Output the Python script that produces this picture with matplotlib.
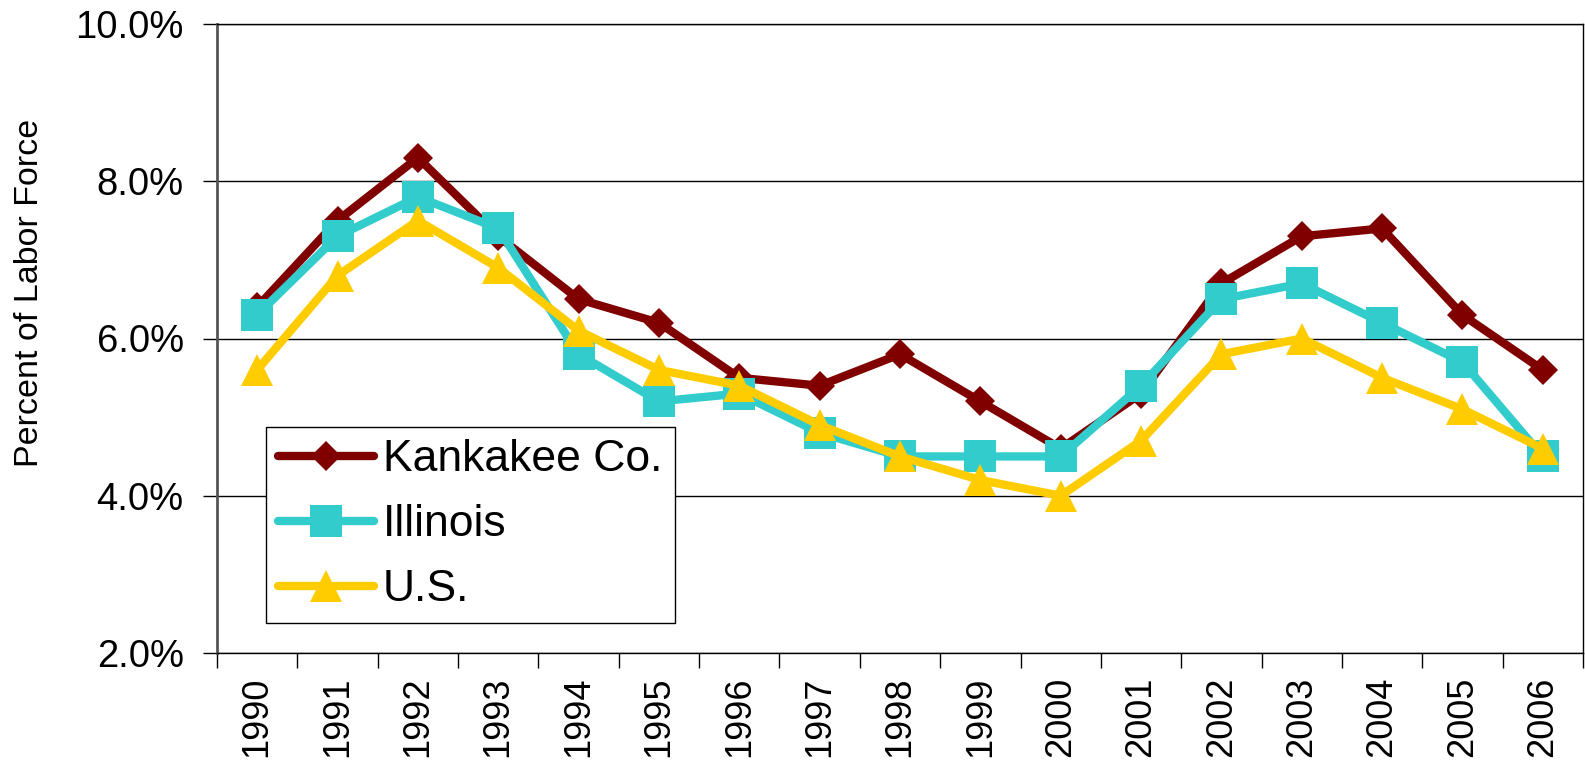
import matplotlib
matplotlib.use("Agg")
from matplotlib import pyplot as plt
from matplotlib.ticker import FixedLocator, FuncFormatter

plt.rcParams['font.family'] = ['Liberation Sans', 'DejaVu Sans']

# data
years = ['1990', '1991', '1992', '1993', '1994', '1995', '1996', '1997', '1998',
         '1999', '2000', '2001', '2002', '2003', '2004', '2005', '2006']
kankakee = [6.4, 7.5, 8.3, 7.3, 6.5, 6.2, 5.5, 5.4, 5.8, 5.2, 4.6, 5.3, 6.7, 7.3, 7.4, 6.3, 5.6]
illinois = [6.3, 7.3, 7.8, 7.4, 5.8, 5.2, 5.3, 4.8, 4.5, 4.5, 4.5, 5.4, 6.5, 6.7, 6.2, 5.7, 4.5]
us = [5.6, 6.8, 7.5, 6.9, 6.1, 5.6, 5.4, 4.9, 4.5, 4.2, 4.0, 4.7, 5.8, 6.0, 5.5, 5.1, 4.6]
y_ticks = [2, 4, 6, 8, 10]

W, H = 1585, 768
fig = plt.figure(figsize=(W / 100, H / 100), dpi=100)
ax = fig.add_axes([217 / W, 1 - 653 / H, (1583 - 217) / W, (653 - 24) / H])

x = list(range(len(years)))
lw = 6
ax.plot(x, kankakee, color='#800000', lw=lw, marker='D', ms=15.5, mew=0,
        label='Kankakee Co.', solid_capstyle='round', zorder=3)
ax.plot(x, illinois, color='#33CCCC', lw=lw, marker='s', ms=23.5, mew=0,
        label='Illinois', solid_capstyle='round', zorder=4)
ax.plot(x, us, color='#FFCC00', lw=lw, marker='^', ms=23, mew=0,
        label='U.S.', solid_capstyle='round', zorder=5)

ax.set_xlim(-0.5, len(years) - 0.5)
ax.set_ylim(2, 10)

# y axis
ax.yaxis.set_major_locator(FixedLocator(y_ticks))
ax.yaxis.set_major_formatter(FuncFormatter(lambda v, p: '%.1f%%' % v))
ax.tick_params(axis='y', which='major', direction='out', length=10, width=1,
               labelsize=27.5, pad=14)
ax.grid(axis='y', color='black', lw=1)

# x axis: tick marks between categories, labels centred
ax.xaxis.set_major_locator(FixedLocator([i - 0.5 for i in range(len(years) + 1)]))
ax.xaxis.set_major_formatter(FuncFormatter(lambda v, p: ''))
ax.set_xticks(x, years, minor=True)
ax.tick_params(axis='x', which='major', direction='out', length=11, width=1)
ax.tick_params(axis='x', which='minor', length=0, labelsize=26, pad=17,
               labelrotation=90)

for s in ax.spines.values():
    s.set_color('black')
    s.set_linewidth(1)
ax.spines['left'].set_color('#555555')
ax.spines['left'].set_linewidth(2)

fig.text(29.5 / W, 1 - 293 / H, 'Percent of Labor Force', rotation=90,
         ha='center', va='center', fontsize=24.5)

leg = ax.legend(loc='upper left', bbox_to_anchor=(266 / W, 1 - 427 / H),
                bbox_transform=fig.transFigure, borderaxespad=0,
                fontsize=32, handlelength=2.15, handletextpad=0.2,
                labelspacing=0.54, borderpad=0.28, fancybox=False,
                framealpha=1, edgecolor='black')
leg.get_frame().set_linewidth(1)

fig.savefig('out.png', dpi=100)
